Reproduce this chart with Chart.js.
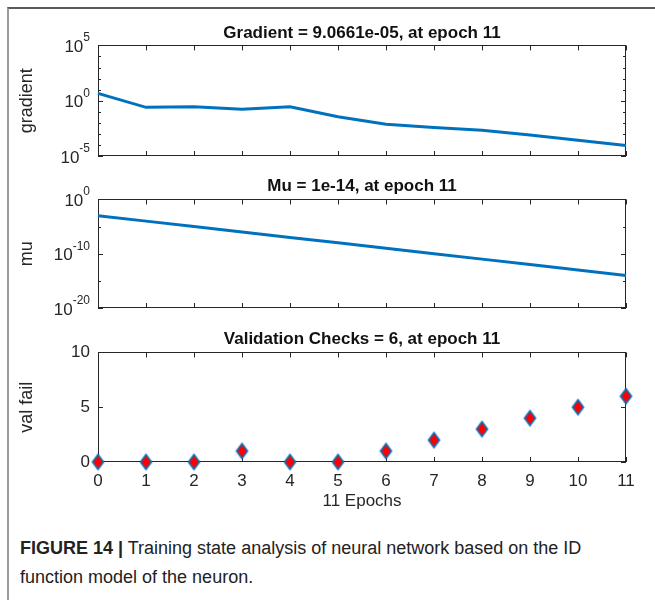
<!DOCTYPE html>
<html>
<head>
<meta charset="utf-8">
<script src="https://cdn.jsdelivr.net/npm/chart.js@4.4.1/dist/chart.umd.min.js"></script>
<style>
  body { margin: 0; background: #fff; }
  #page { position: relative; width: 655px; height: 600px; overflow: hidden; background: #fff; font-family: "Liberation Sans", Arial, sans-serif; }
  #frame { position: absolute; left: 7px; top: 7px; right: 0; bottom: 0; border-top: 2px solid #5a5a5a; border-left: 2px solid #9a9a9a; }
  canvas { position: absolute; left: 0; }
  #caption { position: absolute; left: 20px; top: 534px; font-size: 18px; line-height: 29px; color: #222; }
  #caption b { font-weight: bold; }
</style>
</head>
<body>
<div id="page">
  <div id="frame"></div>
  <canvas id="gradChart" width="655" height="168" style="top:10px"></canvas>
  <canvas id="muChart" width="655" height="160" style="top:170px"></canvas>
  <canvas id="valChart" width="655" height="200" style="top:320px"></canvas>
  <div id="caption"><b>FIGURE 14 |</b> Training state analysis of neural network based on the ID<br>function model of the neuron.</div>
</div>
<script>
// Data
const epochs = [0, 1, 2, 3, 4, 5, 6, 7, 8, 9, 10, 11];
const gradient = [4.6, 0.25, 0.28, 0.17, 0.28, 0.035, 0.0076, 0.0038, 0.0021, 0.0008, 0.00026, 9.0661e-5];
const mu = [1e-3, 1e-4, 1e-5, 1e-6, 1e-7, 1e-8, 1e-9, 1e-10, 1e-11, 1e-12, 1e-13, 1e-14];
const valFail = [0, 0, 0, 1, 0, 0, 1, 2, 3, 4, 5, 6];

// Tick exponents / values
const gradMajorExp = [-5, 0, 5];
const gradMinorExp = [-4, -3, -2, -1, 1, 2, 3, 4];
const muMajorExp = [-20, -10, 0];
const muMinorExp = [-15, -5];
const valTicks = [0, 5, 10];

const blue = '#0072BD';
const axisColor = '#262626';
const fontFamily = '"Liberation Sans", Arial, sans-serif';

Chart.defaults.font.family = fontFamily;
Chart.defaults.font.size = 17;
Chart.defaults.color = axisColor;

// MATLAB style box, inward ticks and 10^n labels
const matlabAxes = {
    id: 'matlabAxes',
    beforeDatasetsDraw(chart, args, opts) {
        const { ctx, chartArea: a, scales: { x, y } } = chart;
        ctx.save();
        ctx.strokeStyle = axisColor;
        ctx.lineWidth = 1;
        ctx.beginPath();
        epochs.forEach(e => {
            const px = Math.round(x.getPixelForValue(e)) + 0.5;
            ctx.moveTo(px, a.bottom); ctx.lineTo(px, a.bottom - 5);
            ctx.moveTo(px, a.top); ctx.lineTo(px, a.top + 5);
        });
        const yTick = (v, len) => {
            const py = Math.round(y.getPixelForValue(v)) + 0.5;
            ctx.moveTo(a.left, py); ctx.lineTo(a.left + len, py);
            ctx.moveTo(a.right, py); ctx.lineTo(a.right - len, py);
        };
        (opts.major || []).forEach(v => yTick(v, 5));
        (opts.minor || []).forEach(v => yTick(v, 3));
        ctx.stroke();
        ctx.strokeRect(Math.round(a.left) + 0.5, Math.round(a.top) + 0.5, Math.round(a.width) - 1, Math.round(a.height) - 1);

        // log labels with superscript exponent
        if (opts.exps) {
            ctx.fillStyle = axisColor;
            opts.exps.forEach(p => {
                const py = y.getPixelForValue(Math.pow(10, p));
                const right = a.left - 8;
                ctx.font = '12px ' + fontFamily;
                const sup = String(p);
                const ws = ctx.measureText(sup).width;
                ctx.textBaseline = 'alphabetic';
                ctx.textAlign = 'left';
                ctx.fillText(sup, right - ws, py - 4);
                ctx.font = '17px ' + fontFamily;
                const w10 = ctx.measureText('10').width;
                ctx.textBaseline = 'middle';
                ctx.fillText('10', right - ws - w10, py + 2);
            });
        }
        ctx.restore();
    }
};

function diamondMarker(w, h) {
    const c = document.createElement('canvas');
    c.width = w + 4; c.height = h + 4;
    const g = c.getContext('2d');
    g.beginPath();
    g.moveTo(c.width / 2, 2);
    g.lineTo(c.width - 2, c.height / 2);
    g.lineTo(c.width / 2, c.height - 2);
    g.lineTo(2, c.height / 2);
    g.closePath();
    g.fillStyle = '#ff0000';
    g.fill();
    g.strokeStyle = blue;
    g.lineWidth = 1.6;
    g.stroke();
    return c;
}

function titleOpts(text, top, bottom) {
    return { display: true, text: text, fullSize: false, color: '#111', font: { size: 17, weight: 'bold' }, padding: { top: top, bottom: bottom } };
}

function logY(min, max, label) {
    return {
        type: 'logarithmic', min: min, max: max,
        grid: { display: false, drawTicks: false },
        border: { display: false },
        ticks: { display: false },
        title: { display: true, text: label, padding: { top: 16, bottom: 0 }, font: { size: 18 } },
        afterFit: s => { s.width = 98; }
    };
}

function lineSet(values) {
    return {
        data: epochs.map((e, i) => ({ x: e, y: values[i] })),
        borderColor: blue, borderWidth: 3, pointRadius: 0, tension: 0, fill: false, clip: false
    };
}

// Gradient
new Chart(document.getElementById('gradChart'), {
    type: 'line',
    data: { datasets: [lineSet(gradient)] },
    options: {
        responsive: false, animation: false,
        layout: { padding: { left: 0, right: 29, top: 0, bottom: 22 } },
        plugins: {
            legend: { display: false }, tooltip: { enabled: false },
            title: titleOpts('Gradient = 9.0661e-05, at epoch 11', 13, 2),
            matlabAxes: {
                major: gradMajorExp.map(p => Math.pow(10, p)),
                minor: gradMinorExp.map(p => Math.pow(10, p)),
                exps: gradMajorExp
            }
        },
        scales: {
            x: { type: 'linear', min: 0, max: 11, display: false },
            y: logY(1e-5, 1e5, 'gradient')
        }
    },
    plugins: [matlabAxes]
});

// Mu
new Chart(document.getElementById('muChart'), {
    type: 'line',
    data: { datasets: [lineSet(mu)] },
    options: {
        responsive: false, animation: false,
        layout: { padding: { left: 0, right: 29, top: 0, bottom: 22 } },
        plugins: {
            legend: { display: false }, tooltip: { enabled: false },
            title: titleOpts('Mu = 1e-14, at epoch 11', 6, 3),
            matlabAxes: {
                major: muMajorExp.map(p => Math.pow(10, p)),
                minor: muMinorExp.map(p => Math.pow(10, p)),
                exps: muMajorExp
            }
        },
        scales: {
            x: { type: 'linear', min: 0, max: 11, display: false },
            y: logY(1e-20, 1, 'mu')
        }
    },
    plugins: [matlabAxes]
});

// Validation checks
new Chart(document.getElementById('valChart'), {
    type: 'line',
    data: {
        datasets: [{
            data: epochs.map((e, i) => ({ x: e, y: valFail[i] })),
            showLine: false,
            pointStyle: diamondMarker(11, 15),
            clip: false
        }]
    },
    options: {
        responsive: false, animation: false,
        layout: { padding: { left: 0, right: 29, top: 0, bottom: 0 } },
        plugins: {
            legend: { display: false }, tooltip: { enabled: false },
            title: titleOpts('Validation Checks = 6, at epoch 11', 9, 3),
            matlabAxes: { major: valTicks }
        },
        scales: {
            x: {
                type: 'linear', min: 0, max: 11,
                grid: { display: false, drawTicks: false },
                border: { display: false },
                ticks: { stepSize: 1, padding: 9, maxRotation: 0, autoSkip: false, font: { size: 17 } },
                title: { display: true, text: '11 Epochs', padding: { top: 0, bottom: 8 }, font: { size: 17 } },
                afterFit: s => { s.height = 58; }
            },
            y: {
                type: 'linear', min: 0, max: 10,
                grid: { display: false, drawTicks: false },
                border: { display: false },
                ticks: { stepSize: 5, padding: 8, font: { size: 17 } },
                title: { display: true, text: 'val fail', padding: { top: 16, bottom: 0 }, font: { size: 18 } },
                afterFit: s => { s.width = 98; }
            }
        }
    },
    plugins: [matlabAxes]
});
</script>
</body>
</html>
